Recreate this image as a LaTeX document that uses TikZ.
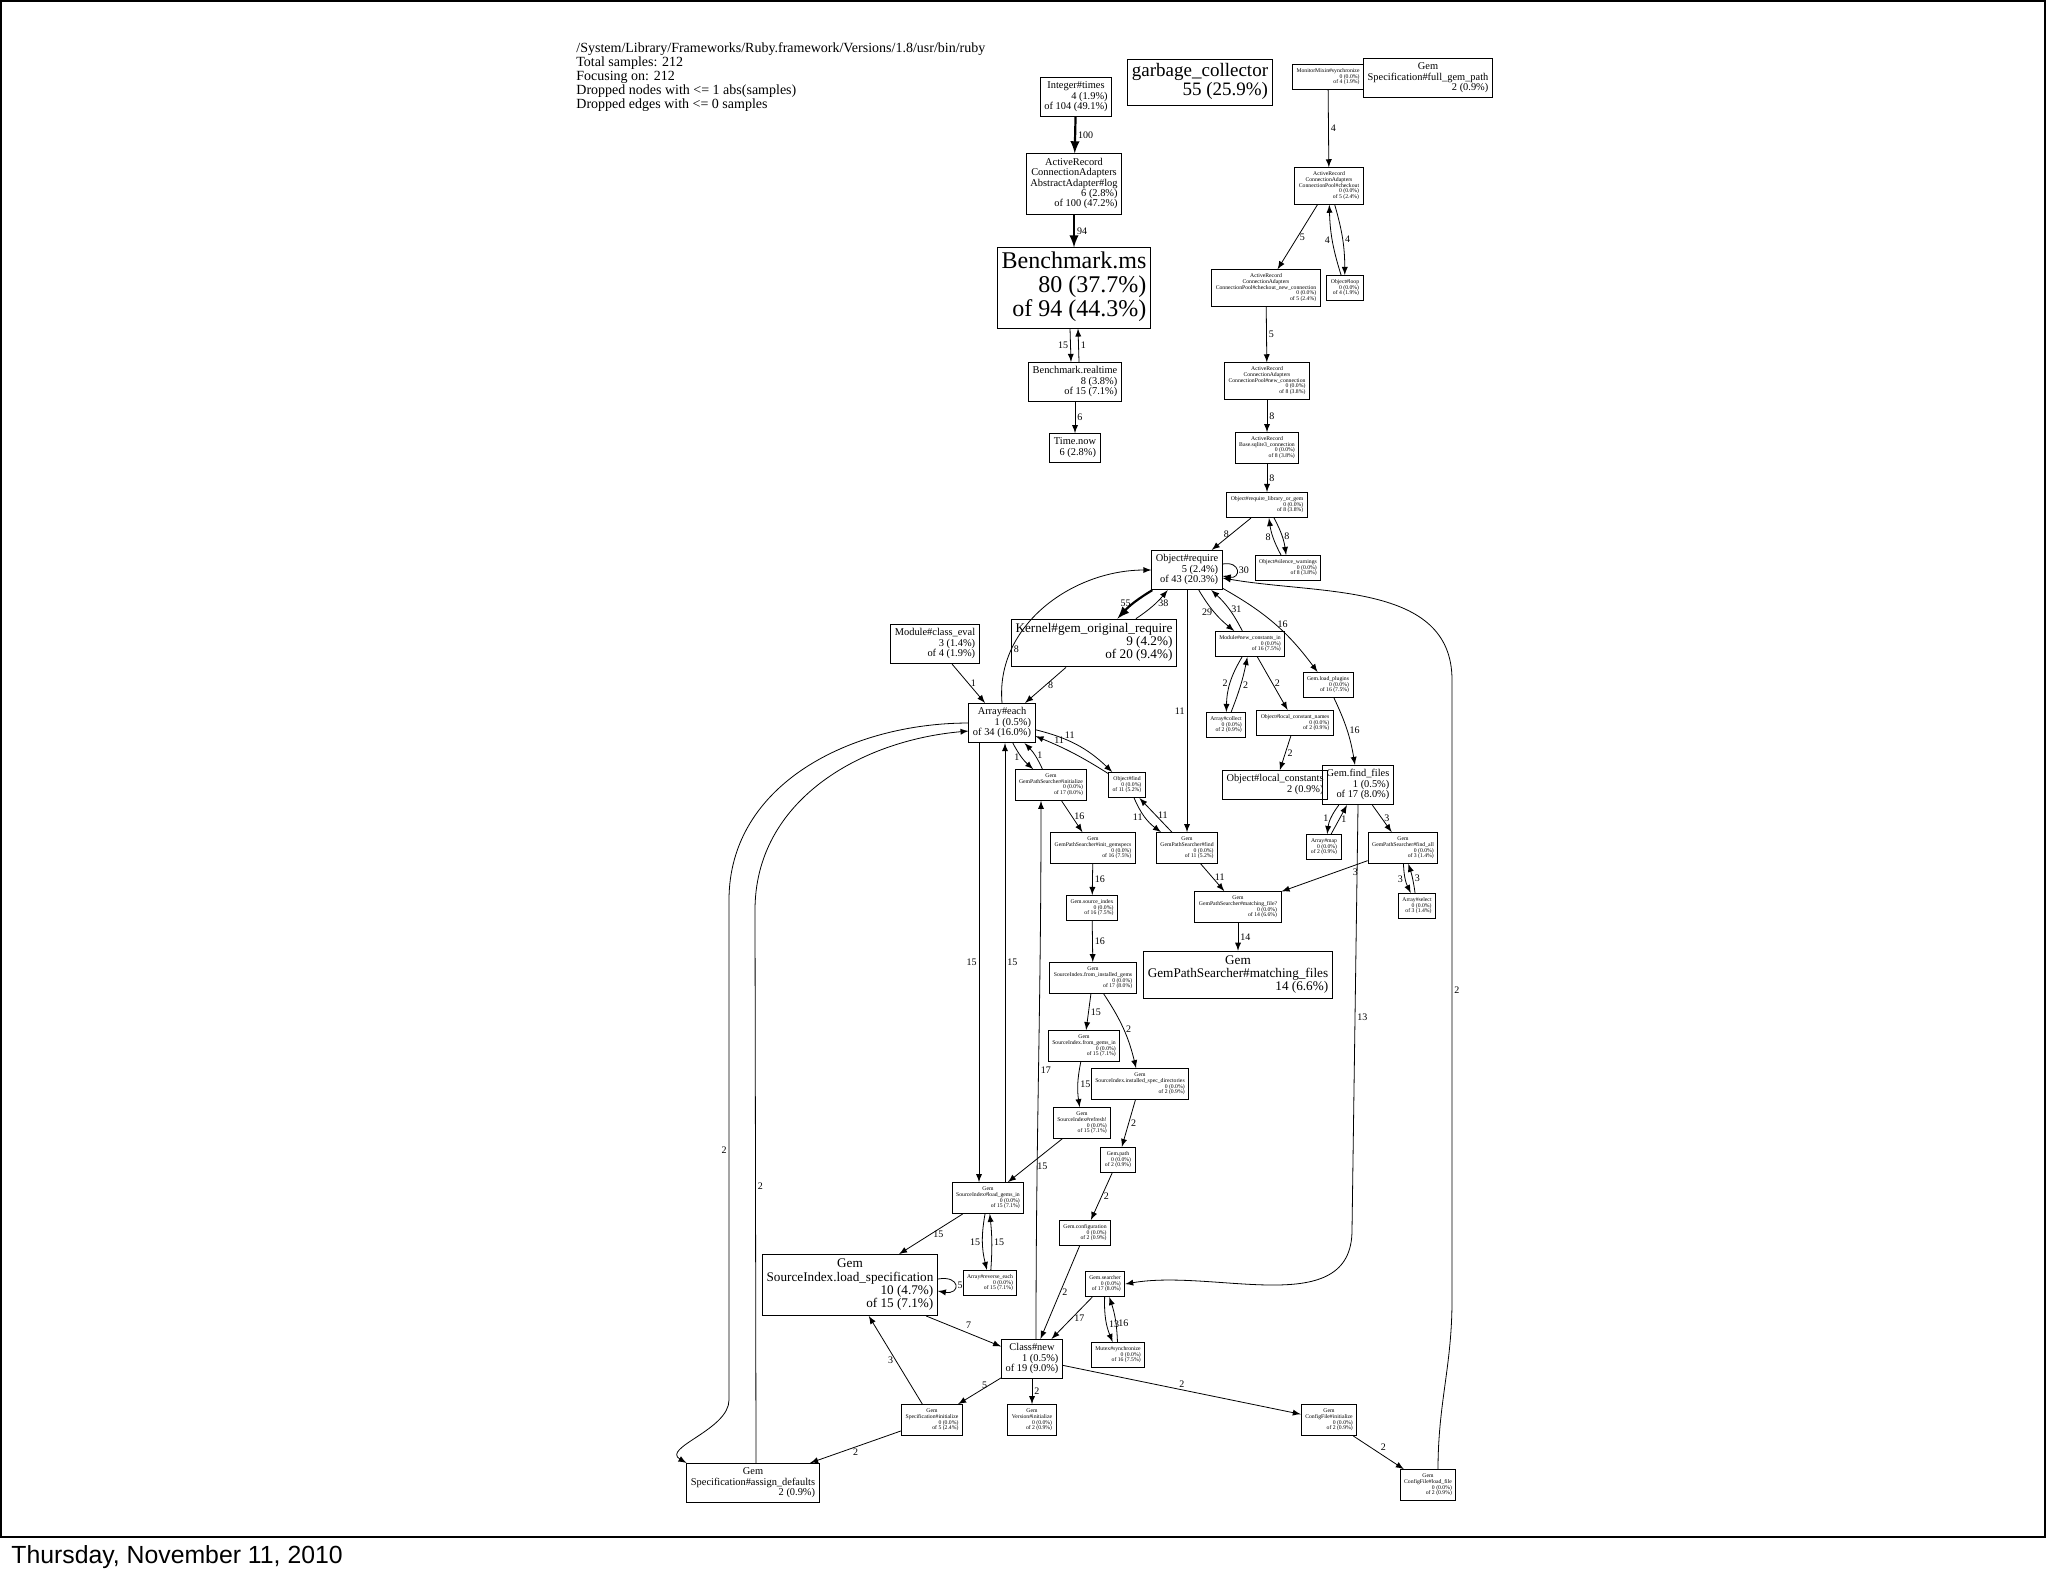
\documentclass[tikz,border=0pt]{standalone}
\usepackage{fontspec}
\setmainfont{Liberation Serif}
\newfontfamily\datefont{Liberation Sans}
\usetikzlibrary{positioning}
\usetikzlibrary{calc}
\usetikzlibrary{arrows}
\newcommand\nd[1]{\begin{tabular}{@{}r@{}}#1\end{tabular}}
\newcommand\nm[1]{\multicolumn{1}{@{}c@{}}{#1}}
\newcommand\fs[1]{\fontsize{#1}{#1}\selectfont}

\begin{document}
\begin{tikzpicture}
 [ x=0.5pt, y=-0.5pt
 , every node/.style={inner sep=1.5pt}
 , box/.style={draw, line width=0.5pt, rectangle, inner sep=2pt}
 , tn/.style={box, font=\fs{2.85}}
 , sm/.style={box, font=\fs{5.2}}
 , md/.style={box, font=\fs{6.6}}
 , bg/.style={box, font=\fs{9.5}}
 , hg/.style={box, font=\fs{12}}
 , e/.style={-latex, line width=0.4pt}
 , heavy/.style={-latex, line width=1.1pt}
 , lbl/.style={font=\fs{5}, inner sep=1pt}
 ]
  \useasboundingbox (0,0) rectangle (2048,1576);
  \draw[line width=0.6pt] (1,1) rectangle (2045,1537);
  \node[anchor=south west, font=\datefont\fs{12.4}] (date) at (8,1572) {Thursday, November 11, 2010};
  \node[anchor=north west, align=left, font=\fs{7}, inner sep=0pt] (hdr) at (576,42)
    {/System/Library/Frameworks/Ruby.framework/Versions/1.8/usr/bin/ruby\\Total samples: 212\\Focusing on: 212\\Dropped nodes with <= 1 abs(samples)\\Dropped edges with <= 0 samples};

  % top row
  \node[sm] (itimes) at (1076,97) {\nd{\nm{Integer\#times}\\4 (1.9\%)\\of 104 (49.1\%)}};
  \node[bg] (gc) at (1200,82) {\nd{\nm{garbage\_collector}\\55 (25.9\%)}};
  \node[tn] (monitor) at (1328,77) {\nd{\nm{MonitorMixin\#synchronize}\\0 (0.0\%)\\of 4 (1.9\%)}};
  \node[sm] (fullgem) at (1428,78) {\nd{\nm{Gem}\\\nm{Specification\#full\_gem\_path}\\2 (0.9\%)}};

  % benchmark chain
  \node[sm] (log) at (1074,184) {\nd{\nm{ActiveRecord}\\\nm{ConnectionAdapters}\\\nm{AbstractAdapter\#log}\\6 (2.8\%)\\of 100 (47.2\%)}};
  \node[hg] (bms) at (1074,288) {\nd{\nm{Benchmark.ms}\\80 (37.7\%)\\of 94 (44.3\%)}};
  \node[sm] (realtime) at (1075,382) {\nd{\nm{Benchmark.realtime}\\8 (3.8\%)\\of 15 (7.1\%)}};
  \node[sm] (timenow) at (1075,448) {\nd{\nm{Time.now}\\6 (2.8\%)}};

  % connection pool chain
  \node[tn] (checkout) at (1329,186) {\nd{\nm{ActiveRecord}\\\nm{ConnectionAdapters}\\\nm{ConnectionPool\#checkout}\\0 (0.0\%)\\of 5 (2.4\%)}};
  \node[tn] (oloop) at (1345,288) {\nd{\nm{Object\#loop}\\0 (0.0\%)\\of 4 (1.9\%)}};
  \node[tn] (cnewconn) at (1266,288) {\nd{\nm{ActiveRecord}\\\nm{ConnectionAdapters}\\\nm{ConnectionPool\#checkout\_new\_connection}\\0 (0.0\%)\\of 5 (2.4\%)}};
  \node[tn] (newconn) at (1267,381) {\nd{\nm{ActiveRecord}\\\nm{ConnectionAdapters}\\\nm{ConnectionPool\#new\_connection}\\0 (0.0\%)\\of 8 (3.8\%)}};
  \node[tn] (sqlite) at (1267,448) {\nd{\nm{ActiveRecord}\\\nm{Base.sqlite3\_connection}\\0 (0.0\%)\\of 8 (3.8\%)}};
  \node[tn] (rlog) at (1267,505) {\nd{\nm{Object\#require\_library\_or\_gem}\\0 (0.0\%)\\of 8 (3.8\%)}};
  \node[tn] (silence) at (1288,568) {\nd{\nm{Object\#silence\_warnings}\\0 (0.0\%)\\of 8 (3.8\%)}};

  % require area
  \node[sm] (require) at (1187,570) {\nd{\nm{Object\#require}\\5 (2.4\%)\\of 43 (20.3\%)}};
  \node[md] (kernel) at (1094,643) {\nd{\nm{Kernel\#gem\_original\_require}\\9 (4.2\%)\\of 20 (9.4\%)}};
  \node[sm] (classeval) at (935,644) {\nd{\nm{Module\#class\_eval}\\3 (1.4\%)\\of 4 (1.9\%)}};
  \node[sm] (aeach) at (1002,723) {\nd{\nm{Array\#each}\\1 (0.5\%)\\of 34 (16.0\%)}};
  \node[tn] (newconst) at (1250,644) {\nd{\nm{Module\#new\_constants\_in}\\0 (0.0\%)\\of 16 (7.5\%)}};
  \node[tn] (plugins) at (1328,685) {\nd{\nm{Gem.load\_plugins}\\0 (0.0\%)\\of 16 (7.5\%)}};
  \node[tn] (collect) at (1226,725) {\nd{\nm{Array\#collect}\\0 (0.0\%)\\of 2 (0.9\%)}};
  \node[tn] (lcnames) at (1295,723) {\nd{\nm{Object\#local\_constant\_names}\\0 (0.0\%)\\of 2 (0.9\%)}};
  \node[sm] (lconsts) at (1275,785) {\nd{\nm{Object\#local\_constants}\\2 (0.9\%)}};
  \node[sm] (findfiles) at (1358,785) {\nd{\nm{Gem.find\_files}\\1 (0.5\%)\\of 17 (8.0\%)}};
  \node[tn] (gpsinit) at (1051,785) {\nd{\nm{Gem}\\\nm{GemPathSearcher\#initialize}\\0 (0.0\%)\\of 17 (8.0\%)}};
  \node[tn] (objfind) at (1127,785) {\nd{\nm{Object\#find}\\0 (0.0\%)\\of 11 (5.2\%)}};
  \node[tn] (amap) at (1324,847) {\nd{\nm{Array\#map}\\0 (0.0\%)\\of 2 (0.9\%)}};
  \node[tn] (findall) at (1403,848) {\nd{\nm{Gem}\\\nm{GemPathSearcher\#find\_all}\\0 (0.0\%)\\of 3 (1.4\%)}};
  \node[tn] (initgs) at (1093,848) {\nd{\nm{Gem}\\\nm{GemPathSearcher\#init\_gemspecs}\\0 (0.0\%)\\of 16 (7.5\%)}};
  \node[tn] (gpsfind) at (1187,848) {\nd{\nm{Gem}\\\nm{GemPathSearcher\#find}\\0 (0.0\%)\\of 11 (5.2\%)}};
  \node[tn] (aselect) at (1417,906) {\nd{\nm{Array\#select}\\0 (0.0\%)\\of 3 (1.4\%)}};
  \node[tn] (mfile) at (1238,907) {\nd{\nm{Gem}\\\nm{GemPathSearcher\#matching\_file?}\\0 (0.0\%)\\of 14 (6.6\%)}};
  \node[md] (mfiles) at (1238,975) {\nd{\nm{Gem}\\\nm{GemPathSearcher\#matching\_files}\\14 (6.6\%)}};

  % source index chain
  \node[tn] (srcidx) at (1092,908) {\nd{\nm{Gem.source\_index}\\0 (0.0\%)\\of 16 (7.5\%)}};
  \node[tn] (fromig) at (1093,978) {\nd{\nm{Gem}\\\nm{SourceIndex.from\_installed\_gems}\\0 (0.0\%)\\of 17 (8.0\%)}};
  \node[tn] (fromgi) at (1084,1046) {\nd{\nm{Gem}\\\nm{SourceIndex.from\_gems\_in}\\0 (0.0\%)\\of 15 (7.1\%)}};
  \node[tn] (specdirs) at (1140,1084) {\nd{\nm{Gem}\\\nm{SourceIndex.installed\_spec\_directories}\\0 (0.0\%)\\of 2 (0.9\%)}};
  \node[tn] (refresh) at (1082,1123) {\nd{\nm{Gem}\\\nm{SourceIndex\#refresh!}\\0 (0.0\%)\\of 15 (7.1\%)}};
  \node[tn] (gempath) at (1118,1160) {\nd{\nm{Gem.path}\\0 (0.0\%)\\of 2 (0.9\%)}};
  \node[tn] (loadgi) at (988,1198) {\nd{\nm{Gem}\\\nm{SourceIndex\#load\_gems\_in}\\0 (0.0\%)\\of 15 (7.1\%)}};
  \node[tn] (config) at (1085,1233) {\nd{\nm{Gem.configuration}\\0 (0.0\%)\\of 2 (0.9\%)}};
  \node[tn] (reveach) at (990,1283) {\nd{\nm{Array\#reverse\_each}\\0 (0.0\%)\\of 15 (7.1\%)}};
  \node[md] (loadspec) at (850,1285) {\nd{\nm{Gem}\\\nm{SourceIndex.load\_specification}\\10 (4.7\%)\\of 15 (7.1\%)}};
  \node[tn] (searcher) at (1105,1284) {\nd{\nm{Gem.searcher}\\0 (0.0\%)\\of 17 (8.0\%)}};
  \node[tn] (mutex) at (1118,1355) {\nd{\nm{Mutex\#synchronize}\\0 (0.0\%)\\of 16 (7.5\%)}};
  \node[sm] (classnew) at (1032,1359) {\nd{\nm{Class\#new}\\1 (0.5\%)\\of 19 (9.0\%)}};
  \node[tn] (specinit) at (932,1420) {\nd{\nm{Gem}\\\nm{Specification\#initialize}\\0 (0.0\%)\\of 5 (2.4\%)}};
  \node[tn] (verinit) at (1032,1420) {\nd{\nm{Gem}\\\nm{Version\#initialize}\\0 (0.0\%)\\of 2 (0.9\%)}};
  \node[tn] (cfginit) at (1329,1420) {\nd{\nm{Gem}\\\nm{ConfigFile\#initialize}\\0 (0.0\%)\\of 2 (0.9\%)}};
  \node[sm] (assign) at (753,1483) {\nd{\nm{Gem}\\\nm{Specification\#assign\_defaults}\\2 (0.9\%)}};
  \node[tn] (cfgload) at (1428,1485) {\nd{\nm{Gem}\\\nm{ConfigFile\#load\_file}\\0 (0.0\%)\\of 2 (0.9\%)}};

  % waypoints
  \coordinate (wleft) at (729,900);
  \coordinate (wleft2) at (755,910);
  \coordinate (wright) at (1452,680);
  \coordinate (wff) at (1352,1230);

  % edges, top part
  \draw[heavy] (itimes) -- node[lbl,right]{100} (log);
  \draw[heavy] (log) -- node[lbl,right]{94} (bms);
  \draw[e] ([xshift=-2pt]bms.south) -- node[lbl,left]{15} ([xshift=-2pt]realtime.north);
  \draw[e] ([xshift=2pt]realtime.north) -- node[lbl,right]{1} ([xshift=2pt]bms.south);
  \draw[e] (realtime) -- node[lbl,right]{6} (timenow);
  \draw[e] (monitor) -- node[lbl,right]{4} (checkout);
  \draw[e] (checkout) to[bend left=8] node[lbl,right]{4} (oloop);
  \draw[e] (oloop) to[bend left=8] node[lbl,left]{4} (checkout);
  \draw[e] (checkout) -- node[lbl,right]{5} (cnewconn);
  \draw[e] (cnewconn) -- node[lbl,right]{5} (newconn);
  \draw[e] (newconn) -- node[lbl,right]{8} (sqlite);
  \draw[e] (sqlite) -- node[lbl,right]{8} (rlog);
  \draw[e] (rlog) -- node[lbl,left]{8} (require);
  \draw[e] (rlog) to[bend left=10] node[lbl,right]{8} (silence);
  \draw[e] (silence) to[bend left=10] node[lbl,left]{8} (rlog);

  % require area
  \draw[e] ([yshift=3pt]require.east) to[out=10,in=-10,looseness=4] node[lbl,right]{30} ([yshift=-3pt]require.east);
  \draw[heavy] (require) to[bend right=8] node[lbl,left]{55} (kernel);
  \draw[e] (kernel) to[bend right=8] node[lbl,right,pos=.6]{38} (require);
  \draw[e] (kernel) -- node[lbl,right]{8} (aeach);
  \draw[e] (aeach.north) to[out=95,in=180] node[lbl,right,pos=.25]{8} (require.west);
  \draw[e] (classeval) -- node[lbl,right]{1} (aeach);
  \draw[e] (require) to[bend right=10] node[lbl,left]{29} (newconst);
  \draw[e] (newconst) to[bend right=10] node[lbl,right]{31} (require);
  \draw[e] (require) to[bend left=12] node[lbl,right]{16} (plugins);
  \draw[e] (require) -- node[lbl,left]{11} (gpsfind);
  \draw[e] (newconst) to[bend right=15] node[lbl,left]{2} (collect);
  \draw[e] (collect) to[bend right=5] node[lbl,right]{2} (newconst);
  \draw[e] (newconst) -- node[lbl,right]{2} (lcnames);
  \draw[e] (lcnames) -- node[lbl,right]{2} (lconsts);
  \draw[e] (plugins) to[bend left=8] node[lbl,right]{16} (findfiles);
  \draw[e] (findfiles) to[bend right=15] node[lbl,left]{1} (amap);
  \draw[e] (amap) -- node[lbl,right]{1} (findfiles);
  \draw[e] (findfiles) -- node[lbl,right]{3} (findall);
  \draw[e] (findall) to[bend right=12] node[lbl,left]{3} (aselect);
  \draw[e] (aselect) to[bend right=5] node[lbl,right]{3} (findall);
  \draw[e] (findall) -- node[lbl,below right,pos=.2]{3} (mfile);
  \draw[e] (findfiles.south) -- node[lbl,right,pos=.5]{13} (wff) to[out=-90,in=10] (searcher.east);

  % searcher area
  \draw[e] (aeach) to[bend right=10] node[lbl,left]{1} (gpsinit);
  \draw[e] (gpsinit) to[bend right=10] node[lbl,right]{1} (aeach);
  \draw[e] (aeach) to[bend left=15] node[lbl,above,pos=.4]{11} (objfind);
  \draw[e] (objfind) to[bend right=5] node[lbl,above,pos=.7]{11} (aeach);
  \draw[e] (objfind) to[bend right=15] node[lbl,left]{11} (gpsfind);
  \draw[e] (gpsfind) -- node[lbl,right]{11} (objfind);
  \draw[e] (gpsfind) -- node[lbl,right]{11} (mfile);
  \draw[e] (mfile) -- node[lbl,right]{14} (mfiles);
  \draw[e] (gpsinit) -- node[lbl,right]{16} (initgs);
  \draw[e] (initgs) -- node[lbl,right]{16} (srcidx);
  \draw[e] (srcidx) -- node[lbl,right]{16} (fromig);
  \draw[e] (fromig) -- node[lbl,right]{15} (fromgi);
  \draw[e] (fromig) to[bend left=10] node[lbl,right]{2} (specdirs);
  \draw[e] (fromgi) to[bend right=10] node[lbl,right]{15} (refresh);
  \draw[e] (specdirs) -- node[lbl,right]{2} (gempath);
  \draw[e] (refresh) -- node[lbl,below right]{15} (loadgi);
  \draw[e] (gempath) -- node[lbl,right]{2} (config);
  \draw[e] ($(aeach.south)+(-23,0)$) -- node[lbl,left]{15} ($(loadgi.north)+(-9,0)$);
  \draw[e] ($(loadgi.north)+(17,0)$) to[out=90,in=-90] node[lbl,right]{15} ($(aeach.south)+(3,0)$);
  \draw[e] (loadgi) -- node[lbl,right]{15} (loadspec);
  \draw[e] (loadgi) to[bend right=12] node[lbl,left]{15} (reveach);
  \draw[e] (reveach) to[bend right=5] node[lbl,right]{15} (loadgi);
  \draw[e] ([yshift=3pt]loadspec.east) to[out=10,in=-10,looseness=5] node[lbl,right]{5} ([yshift=-3pt]loadspec.east);
  \draw[e] (loadspec) -- node[lbl,above right]{7} (classnew);
  \draw[e] (config) -- node[lbl,right]{2} (classnew);
  \draw[e] (searcher) -- node[lbl,right]{17} (classnew);
  \draw[e] (searcher) to[bend right=12] node[lbl,right,pos=.6]{13} (mutex);
  \draw[e] (mutex) to[bend right=8] node[lbl,right,pos=.4]{16} (searcher);
  \draw[e] ([xshift=2pt]classnew.north) to[out=90,in=-90] node[lbl,right]{17} ([xshift=-5pt]gpsinit.south);
  \draw[e] (classnew) -- node[lbl,above right]{5} (specinit);
  \draw[e] (classnew) -- node[lbl,right]{2} (verinit);
  \draw[e] (classnew) -- node[lbl,above]{2} (cfginit);
  \draw[e] (specinit) -- node[lbl,left]{3} (loadspec);
  \draw[e] (specinit) -- node[lbl,below]{2} (assign);
  \draw[e] (cfginit) -- node[lbl,above right]{2} (cfgload);
  \draw[e] ($(cfgload.north)+(10,0)$) to[out=90,in=-90] (1452,1300) -- node[lbl,right]{2} (wright) to[out=90,in=-10] ([yshift=-4pt]require.east);
  \draw[e] (aeach.west) to[out=180,in=90] (wleft) -- node[lbl,left]{2} (729,1400) to[out=-90,in=150] (assign.north west);
  \draw[e] ($(assign.north)+(3,0)$) -- node[lbl,right]{2} (wleft2) to[out=90,in=185] ([yshift=-4pt]aeach.west);
\end{tikzpicture}
\end{document}
